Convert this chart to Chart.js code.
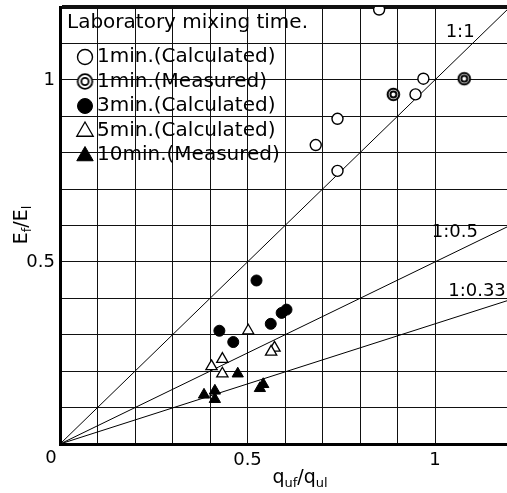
<!DOCTYPE html>
<html>
<head>
<meta charset="utf-8">
<script src="https://cdn.jsdelivr.net/npm/chart.js@4.4.1/dist/chart.umd.min.js"></script>
<style>
  html, body { margin: 0; padding: 0; background: #fff; }
  #wrap { position: relative; width: 507px; height: 493px; }
</style>
</head>
<body>
<div id="wrap"><canvas id="chart"></canvas></div>
<script>
// values: x = q_uf/q_ul, y = E_f/E_l
const calc1X = [0.851, 0.969, 0.948, 0.740, 0.682, 0.740];
const calc1Y = [1.193, 1.003, 0.960, 0.893, 0.821, 0.750];
const meas1X = [0.889, 1.078];
const meas1Y = [0.960, 1.003];
const calc3X = [0.524, 0.425, 0.462, 0.562, 0.591, 0.604];
const calc3Y = [0.449, 0.311, 0.280, 0.330, 0.360, 0.369];
const calc5X = [0.502, 0.433, 0.404, 0.433, 0.572, 0.563];
const calc5Y = [0.311, 0.233, 0.213, 0.193, 0.264, 0.253];
const meas10X = [0.474, 0.384, 0.413, 0.413, 0.542, 0.533];
const meas10Y = [0.193, 0.135, 0.146, 0.123, 0.164, 0.153];

const seriesLabels = ['1min.(Calculated)', '1min.(Measured)', '3min.(Calculated)', '5min.(Calculated)', '10min.(Measured)'];
const legendTitle = 'Laboratory mixing time.';

const ratioLabels = ['1:1', '1:0.5', '1:0.33'];
const ratioSlopes = [1, 0.5, 0.33];

const xMax = 1.192;
const yMax = 1.2;
const xTickLabels = [0.5, 1];
const yTickLabels = [0.5, 1];

const FONT = '"DejaVu Sans", sans-serif';

const pts = (xs, ys) => xs.map((x, i) => ({ x: x, y: ys[i] }));

// double circle marker (drawn into a small canvas)
function ringMarker(outer, inner, lw) {
  const size = 2 * Math.ceil(outer + lw + 1) + 1;
  const c = document.createElement('canvas');
  c.width = c.height = size;
  const g = c.getContext('2d');
  const m = size / 2;
  g.fillStyle = '#fff';
  g.strokeStyle = '#000';
  g.lineWidth = lw;
  g.beginPath(); g.arc(m, m, outer, 0, Math.PI * 2); g.fill(); g.stroke();
  g.beginPath(); g.arc(m, m, inner, 0, Math.PI * 2); g.stroke();
  return c;
}
const ringSmall = ringMarker(5.8, 3, 2);
const ringBig = ringMarker(7.3, 3.6, 1.8);

const markerStyles = [
  { pointStyle: 'circle', radius: 5.5, fill: '#fff', lw: 1.4, legendRadius: 7.5 },
  { pointStyle: ringSmall, radius: 6, fill: '#fff', lw: 1.4, legendStyle: ringBig },
  { pointStyle: 'circle', radius: 5.5, fill: '#000', lw: 1, legendRadius: 7.5 },
  { pointStyle: 'triangle', radius: 6.5, fill: '#fff', lw: 1.3, legendRadius: 9.5 },
  { pointStyle: 'triangle', radius: 6.5, fill: '#000', lw: 1, legendRadius: 9.5 }
];

const seriesData = [pts(calc1X, calc1Y), pts(meas1X, meas1Y), pts(calc3X, calc3Y), pts(calc5X, calc5Y), pts(meas10X, meas10Y)];

const datasets = [];
ratioSlopes.forEach((k, i) => {
  datasets.push({
    label: ratioLabels[i],
    data: [{ x: 0, y: 0 }, { x: xMax, y: k * xMax }],
    showLine: true,
    borderColor: '#000',
    borderWidth: 1,
    pointRadius: 0,
    order: 2,
    isRatio: true
  });
});
seriesData.forEach((d, i) => {
  const m = markerStyles[i];
  datasets.push({
    label: seriesLabels[i],
    data: d,
    pointStyle: m.pointStyle,
    pointRadius: m.radius,
    pointBackgroundColor: m.fill,
    pointBorderColor: '#000',
    pointBorderWidth: m.lw,
    showLine: false,
    order: 1,
    marker: m
  });
});

const near = (v, list) => list.some(t => Math.abs(v - t) < 1e-6);

function drawSubText(ctx, parts, x, y, big, small) {
  let total = 0;
  parts.forEach(p => {
    ctx.font = (p[1] ? small : big) + 'px ' + FONT;
    total += ctx.measureText(p[0]).width;
  });
  let cx = x - total / 2;
  ctx.textAlign = 'left';
  ctx.textBaseline = 'alphabetic';
  parts.forEach(p => {
    ctx.font = (p[1] ? small : big) + 'px ' + FONT;
    ctx.fillText(p[0], cx, p[1] ? y + 4 : y);
    cx += ctx.measureText(p[0]).width;
  });
}

const extrasPlugin = {
  id: 'extras',
  afterDraw(chart) {
    const ctx = chart.ctx;
    const area = chart.chartArea;
    const xs = chart.scales.x, ys = chart.scales.y;
    ctx.save();
    ctx.fillStyle = '#000';

    // legend, drawn inside the plot area over the grid
    ctx.font = '20px ' + FONT;
    ctx.textAlign = 'left';
    ctx.textBaseline = 'middle';
    ctx.fillText(legendTitle, area.left + 7, area.top + 16);
    const series = chart.data.datasets.filter(d => d.marker);
    series.forEach((d, i) => {
      const y = area.top + 50 + i * 24.5;
      const x = area.left + 25;
      const m = d.marker;
      ctx.fillStyle = m.fill;
      ctx.strokeStyle = '#000';
      ctx.lineWidth = m.lw;
      Chart.helpers.drawPoint(ctx, {
        pointStyle: m.legendStyle || m.pointStyle,
        radius: m.legendRadius || 7,
        rotation: 0,
        borderWidth: m.lw
      }, x, m.pointStyle === 'triangle' ? y + 1 : y);
      ctx.fillStyle = '#000';
      ctx.font = '20px ' + FONT;
      ctx.fillText(d.label, area.left + 37, y);
    });

    // ratio line labels, near the right end of each line
    ctx.font = '18px ' + FONT;
    ctx.textAlign = 'center';
    ctx.textBaseline = 'middle';
    const labelAt = [[1.067, 1.13], [1.053, 0.58], [1.112, 0.42]];
    chart.data.datasets.filter(d => d.isRatio).forEach((d, i) => {
      ctx.fillText(d.label, xs.getPixelForValue(labelAt[i][0]), ys.getPixelForValue(labelAt[i][1]));
    });

    // shared zero at the corner
    ctx.font = '18px ' + FONT;
    ctx.fillText('0', area.left - 9, area.bottom + 14);

    // axis titles with subscripts
    drawSubText(ctx, [['q', 0], ['uf', 1], ['/q', 0], ['ul', 1]], 300, 483, 19, 13);
    ctx.translate(27, 225);
    ctx.rotate(-Math.PI / 2);
    drawSubText(ctx, [['E', 0], ['f', 1], ['/E', 0], ['l', 1]], 0, 0, 19, 13);
    ctx.restore();
  }
};

const ctx = document.getElementById('chart').getContext('2d');
new Chart(ctx, {
  type: 'scatter',
  data: { datasets: datasets },
  options: {
    responsive: true,
    maintainAspectRatio: false,
    animation: false,
    layout: { autoPadding: false, padding: { top: 7, right: 0, left: 0, bottom: 0 } },
    plugins: {
      legend: { display: false },
      tooltip: { enabled: false }
    },
    scales: {
      x: {
        type: 'linear',
        min: 0,
        max: xMax,
        afterFit: s => { s.height = 49; s.paddingLeft = 0; s.paddingRight = 0; },
        border: { display: true, color: '#000', width: 3 },
        grid: { color: '#111', lineWidth: 1, drawTicks: false },
        ticks: {
          stepSize: 0.1,
          padding: 6,
          color: '#000',
          font: { family: FONT, size: 18 },
          maxRotation: 0,
          autoSkip: false,
          callback: v => near(v, xTickLabels) ? String(Math.round(v * 10) / 10) : ''
        }
      },
      y: {
        type: 'linear',
        min: 0,
        max: yMax,
        afterFit: s => { s.width = 60; s.paddingTop = 0; s.paddingBottom = 0; },
        border: { display: true, color: '#000', width: 3 },
        grid: {
          color: '#111',
          drawTicks: false,
          lineWidth: c => (c.tick && Math.abs(c.tick.value - yMax) < 1e-6) ? 4 : 1
        },
        ticks: {
          stepSize: 0.1,
          padding: 5,
          color: '#000',
          font: { family: FONT, size: 18 },
          autoSkip: false,
          callback: v => near(v, yTickLabels) ? String(Math.round(v * 10) / 10) : ''
        }
      }
    }
  },
  plugins: [extrasPlugin]
});
</script>
</body>
</html>
